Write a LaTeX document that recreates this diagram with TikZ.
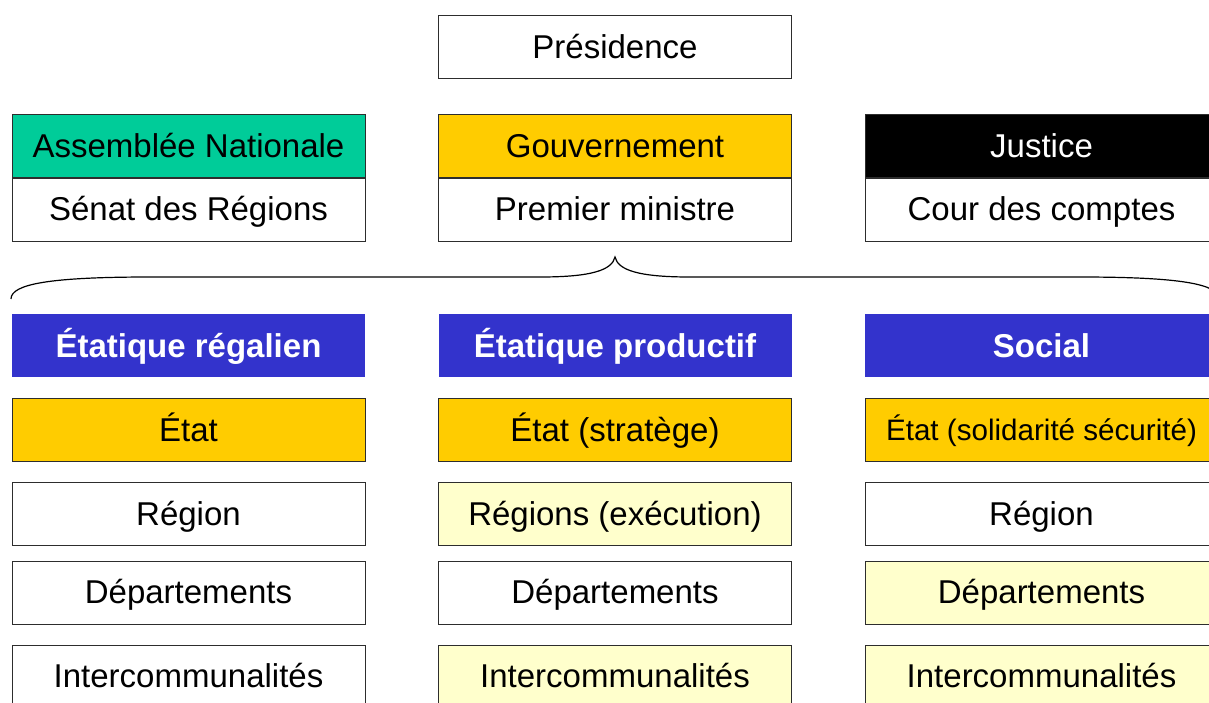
\documentclass[tikz,border=0pt]{standalone}
\usepackage{fontspec}
\setmainfont{Liberation Sans}
\definecolor{greenA}{RGB}{0,204,153}
\definecolor{goldA}{RGB}{255,204,0}
\definecolor{blueA}{RGB}{51,51,204}
\definecolor{paleA}{RGB}{255,255,204}
\definecolor{edgeA}{RGB}{45,45,45}
\tikzset{
  box/.style={rectangle, draw=edgeA, line width=1pt, fill=white, minimum width=353pt,
    minimum height=63pt, inner sep=0pt, text=black,
    font=\fontsize{33}{40}\selectfont, text height=29.9pt, text depth=7pt},
  head/.style={box, draw=none, fill=blueA, text=white, font=\fontsize{33}{40}\selectfont\bfseries},
  gold/.style={box, fill=goldA},
  pale/.style={box, fill=paleA},
  grn/.style={box, fill=greenA},
  blk/.style={box, fill=black, text=white},
  small/.style={font=\fontsize{29.6}{36}\selectfont, text height=26.8pt, text depth=6.3pt},
  bracepath/.style={draw=black, line width=1.2pt}
}
\begin{document}
\begin{tikzpicture}[x=1pt,y=-1pt]
\useasboundingbox (0,0) rectangle (1209,702);
\clip (0,0) rectangle (1209,702);
% top
\node[box] (pres) at (615,47) {Présidence};
% row 2
\node[grn]  (an)   at (188.5,146.25) {Assemblée Nationale};
\node[box]  (sen)  at (188.5,209.5) {Sénat des Régions};
\node[gold] (gouv) at (615,146.25) {Gouvernement};
\node[box]  (pm)   at (615,209.5) {Premier ministre};
\node[blk]  (just) at (1041.5,146.25) {Justice};
\node[box]  (cour) at (1041.5,209.5) {Cour des comptes};
% brace
\draw[bracepath] (11,299) .. controls (11,284) and (50,277) .. (150,277)
  -- (540,277) .. controls (592,277) and (612,270) .. (615,257)
  .. controls (618,270) and (638,277) .. (690,277)
  -- (1080,277) .. controls (1180,277) and (1219,284) .. (1219,299);
% headers
\node[head] (h1) at (188.5,345.75) {Étatique régalien};
\node[head] (h2) at (615,345.75) {Étatique productif};
\node[head] (h3) at (1041.5,345.75) {Social};
% État row
\node[gold] (e1) at (188.5,430) {État};
\node[gold] (e2) at (615,430) {État (stratège)};
\node[gold, small] (e3) at (1041.5,430) {État (solidarité sécurité)};
% Région row
\node[box]  (r1) at (188.5,513.75) {Région};
\node[pale] (r2) at (615,513.75) {Régions (exécution)};
\node[box]  (r3) at (1041.5,513.75) {Région};
% Départements row
\node[box]  (d1) at (188.5,592.5) {Départements};
\node[box]  (d2) at (615,592.5) {Départements};
\node[pale] (d3) at (1041.5,592.5) {Départements};
% Intercommunalités row
\node[box]  (i1) at (188.5,676.5) {Intercommunalités};
\node[pale] (i2) at (615,676.5) {Intercommunalités};
\node[pale] (i3) at (1041.5,676.5) {Intercommunalités};
\end{tikzpicture}
\end{document}
